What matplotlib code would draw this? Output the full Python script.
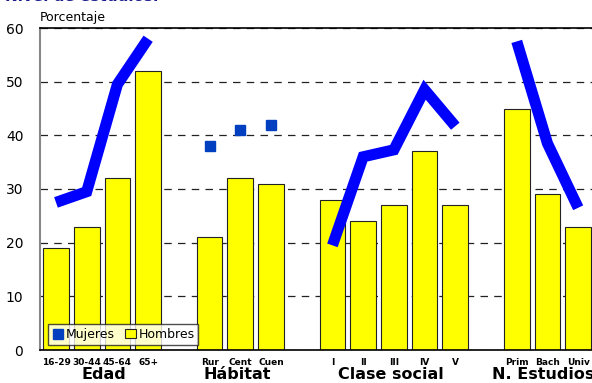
import numpy as np
import matplotlib.pyplot as plt

# data
labels = ['16-29', '30-44', '45-64', '65+', 'Rur', 'Cent', 'Cuen',
          'I', 'II', 'III', 'IV', 'V', 'Prim', 'Bach', 'Univ']
pos = [0, 1, 2, 3, 5, 6, 7, 9, 10, 11, 12, 13, 15, 16, 17]
hombres = [19, 23, 32, 52, 21, 32, 31, 28, 24, 27, 37, 27, 45, 29, 23]
muj_edad = [27.5, 29.5, 49.5, 58]
muj_habitat = [38, 41, 42]
muj_clase = [19.5, 36, 37.3, 48.5, 41.7]
muj_estudios = [57.5, 38.5, 26.5]
groups = ['Edad', 'Hábitat', 'Clase social', 'N. Estudios']
group_pos = [1.55, 5.9, 10.9, 15.85]

fig = plt.figure(figsize=(5.92, 3.83), dpi=100)
ax = fig.add_axes([40/592, 33/383, 552/592, 322/383])

ax.bar(pos, hombres, width=0.84, color='#ffff00', edgecolor='#222222',
       linewidth=0.8, label='Hombres', zorder=2)

lw = 8
for xs, ys in [(pos[0:4], muj_edad), (pos[7:12], muj_clase), (pos[12:15], muj_estudios)]:
    ax.plot(xs, ys, color='#0000ff', lw=lw, solid_capstyle='butt',
            solid_joinstyle='miter', zorder=3)
ax.plot(pos[4:7], muj_habitat, 's', color='#0040c0', ms=7, ls='none',
        label='Mujeres', zorder=3)

ax.set_xlim(-0.52, 17.45)
ax.set_ylim(0, 60)
ax.set_yticks(range(0, 61, 10))
ax.yaxis.grid(True, ls=(0, (6, 5)), color='#222222', lw=0.9)
ax.set_axisbelow(True)
ax.tick_params(axis='y', length=0, labelsize=10, pad=12)
ax.set_xticks(pos)
ax.set_xticklabels(labels, fontsize=6.5, fontweight='bold')
ax.tick_params(axis='x', length=0, pad=6)
ax.spines['right'].set_visible(False)
ax.spines['left'].set_color('#888888')
ax.spines['left'].set_linewidth(1.5)
ax.spines['top'].set_linewidth(1.2)
ax.spines['bottom'].set_linewidth(1.2)

for g, p in zip(groups, group_pos):
    ax.text(p, -3.25, g, ha='center', va='top', fontsize=11.5,
            fontweight='bold', clip_on=False)

fig.text(40/592, 1 - 17/383, 'Porcentaje', fontsize=9, va='center')
fig.text(5/592, 1 - 1/383, 'Nivel de estudios.', fontsize=11, fontweight='bold',
         color='#1a1a8c', va='baseline')

ax.legend(loc='lower left', bbox_to_anchor=(0.008, 0.005), fontsize=9,
          frameon=True, fancybox=False, edgecolor='#222222',
          handlelength=0.9, handletextpad=0.2, columnspacing=0.8, ncol=2,
          borderpad=0.3, borderaxespad=0.3)

fig.savefig('out.png', dpi=100)
